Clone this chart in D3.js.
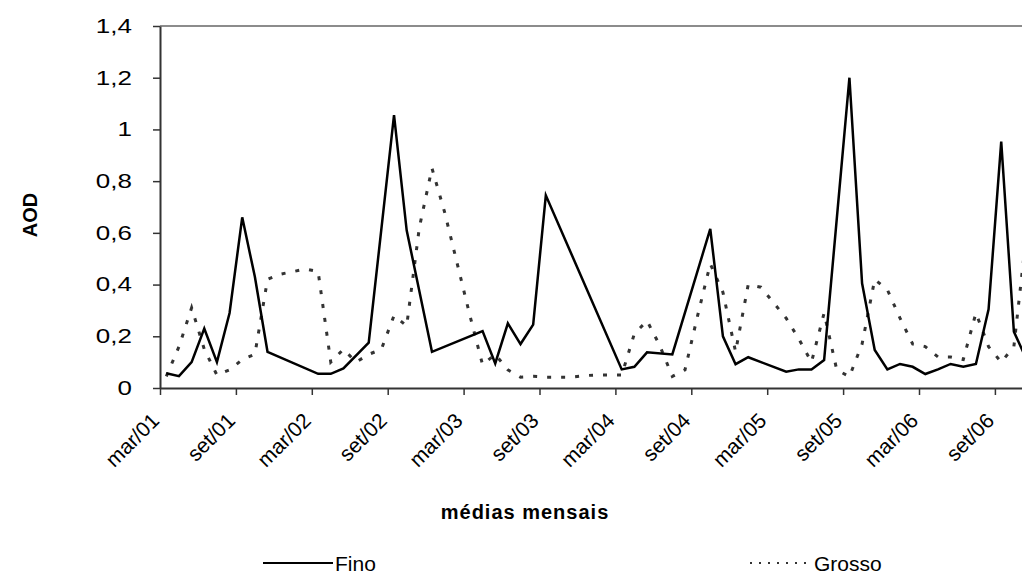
<!DOCTYPE html>
<html>
<head>
<meta charset="utf-8">
<script src="https://cdn.jsdelivr.net/npm/d3@7"></script>
<style>
  body { margin: 0; background: #fff; }
  svg { display: block; }
  text { font-family: Arial, "Liberation Sans", sans-serif; fill: #000; }
</style>
</head>
<body>
<svg id="chart" width="1022" height="576"></svg>
<script>
// Axis labels
const tickLabels = ["mar/01","set/01","mar/02","set/02","mar/03","set/03",
                    "mar/04","set/04","mar/05","set/05","mar/06","set/06"];
const yTicks = [0, 0.2, 0.4, 0.6, 0.8, 1, 1.2, 1.4];
const seriesNames = ["Fino", "Grosso"];

// Monthly mean AOD, one slot per month from mar/2001 (null = month without data)
const fino = [
  0.057, 0.046, 0.10, 0.23, 0.10, 0.29, 0.66, 0.43, 0.14, null, null, null,
  0.055, 0.055, 0.076, null, 0.175, null, 1.055, 0.61, null, 0.14, null, null,
  null, 0.22, 0.095, 0.25, 0.17, 0.245, 0.745, null, null, null, null, null,
  0.072, 0.082, 0.138, null, 0.13, null, null, 0.615, 0.20, 0.092, 0.119, null,
  null, 0.063, 0.072, 0.072, 0.108, null, 1.20, 0.405, 0.147, 0.072, 0.093, 0.082,
  0.054, 0.072, 0.093, 0.082, 0.093, 0.304, 0.953, 0.218, 0.11
];
const grosso = [
  0.045, 0.16, 0.31, 0.15, 0.05, 0.07, 0.11, 0.13, 0.42, 0.44, 0.45, 0.46,
  0.45, 0.10, 0.15, 0.10, 0.13, 0.15, 0.28, 0.24, 0.62, 0.85, 0.68, 0.48,
  0.28, 0.09, 0.13, 0.07, 0.042, 0.045, 0.042, 0.042, 0.042, 0.048, 0.05, 0.05,
  0.05, 0.21, 0.26, 0.165, 0.045, 0.07, 0.28, 0.48, 0.37, 0.14, 0.40, 0.39,
  0.33, 0.27, 0.19, 0.10, 0.29, 0.07, 0.044, 0.17, 0.42, 0.38, 0.27, 0.17,
  0.16, 0.12, 0.12, 0.11, 0.29, 0.16, 0.10, 0.16, 0.60
];

const svg = d3.select("#chart");
const W = 1022, H = 576;
const plot = { left: 160, top: 26, bottom: 388 };
const monthWidth = 12.65;
const nMonths = 70;
const font = "Arial, 'Liberation Sans', sans-serif";

const x = d3.scaleLinear().domain([0, nMonths])
  .range([plot.left, plot.left + nMonths * monthWidth]);
const y = d3.scaleLinear().domain([0, 1.4]).range([plot.bottom, plot.top]);

svg.append("defs").append("clipPath").attr("id", "clip")
  .append("rect").attr("x", plot.left).attr("y", 0)
  .attr("width", W - plot.left).attr("height", H);

// Plot frame (top edge)
svg.append("line")
  .attr("x1", plot.left).attr("x2", x(nMonths))
  .attr("y1", plot.top).attr("y2", plot.top)
  .attr("stroke", "#8c8c8c").attr("stroke-width", 2);

// Y axis (labels drawn slightly wide)
const fmt = d => d === 0 ? "0" : String(d).replace(".", ",");
const yAxis = svg.append("g")
  .attr("transform", `translate(${plot.left},0)`)
  .call(d3.axisLeft(y).tickValues(yTicks).tickFormat(fmt)
        .tickSize(7).tickSizeOuter(0));
yAxis.select(".domain").attr("stroke", "#333").attr("stroke-width", 2);
yAxis.selectAll(".tick line").attr("stroke", "#333").attr("stroke-width", 1.5);
yAxis.selectAll(".tick text").style("font-size", "20px")
  .style("font-family", font).attr("fill", "#000")
  .attr("x", 0)
  .attr("transform", "translate(-28,0) scale(1.3,1)");

// X axis
const xAxis = svg.append("g")
  .attr("transform", `translate(0,${plot.bottom})`)
  .call(d3.axisBottom(x).tickValues(d3.range(0, 67, 6))
        .tickFormat((d, i) => tickLabels[i]).tickSize(7).tickSizeOuter(0));
xAxis.select(".domain").attr("stroke", "#333").attr("stroke-width", 2);
xAxis.selectAll(".tick line").attr("stroke", "#333").attr("stroke-width", 1.5);
xAxis.selectAll(".tick text")
  .style("font-size", "21px")
  .style("font-family", font)
  .attr("fill", "#000")
  .attr("text-anchor", "end")
  .attr("y", 0).attr("dy", 0)
  .attr("transform", "translate(0,34) rotate(-45)");

// Series lines (gaps are bridged)
const line = d3.line().x(d => x(d[0] + 0.5)).y(d => y(d[1]));
const pts = arr => arr.map((v, i) => [i, v]).filter(d => d[1] !== null);

const g = svg.append("g").attr("clip-path", "url(#clip)");
g.append("path").datum(pts(grosso))
  .attr("d", line).attr("fill", "none")
  .attr("stroke", "#333").attr("stroke-width", 3)
  .attr("stroke-dasharray", "4,10");
g.append("path").datum(pts(fino))
  .attr("d", line).attr("fill", "none")
  .attr("stroke", "#000").attr("stroke-width", 2.5)
  .attr("stroke-linejoin", "miter");

// Axis titles
svg.append("text")
  .attr("x", 525).attr("y", 519).attr("text-anchor", "middle")
  .style("font-size", "20px").style("font-weight", "bold")
  .style("letter-spacing", "1px")
  .text("médias mensais");
svg.append("text")
  .attr("transform", "translate(37,215) rotate(-90)")
  .attr("text-anchor", "middle")
  .style("font-size", "20px").style("font-weight", "bold")
  .text("AOD");

// Legend
const legend = [
  { name: seriesNames[0], x1: 263, x2: 333, dash: null, color: "#000", w: 2 },
  { name: seriesNames[1], x1: 750, x2: 812, dash: "2,7", color: "#333", w: 2 }
];
legend.forEach(l => {
  svg.append("line").attr("x1", l.x1).attr("x2", l.x2)
    .attr("y1", 563).attr("y2", 563)
    .attr("stroke", l.color).attr("stroke-width", l.w)
    .attr("stroke-dasharray", l.dash);
  svg.append("text").attr("x", l.x2 + 2).attr("y", 571)
    .style("font-size", "21px").text(l.name);
});
</script>
</body>
</html>
